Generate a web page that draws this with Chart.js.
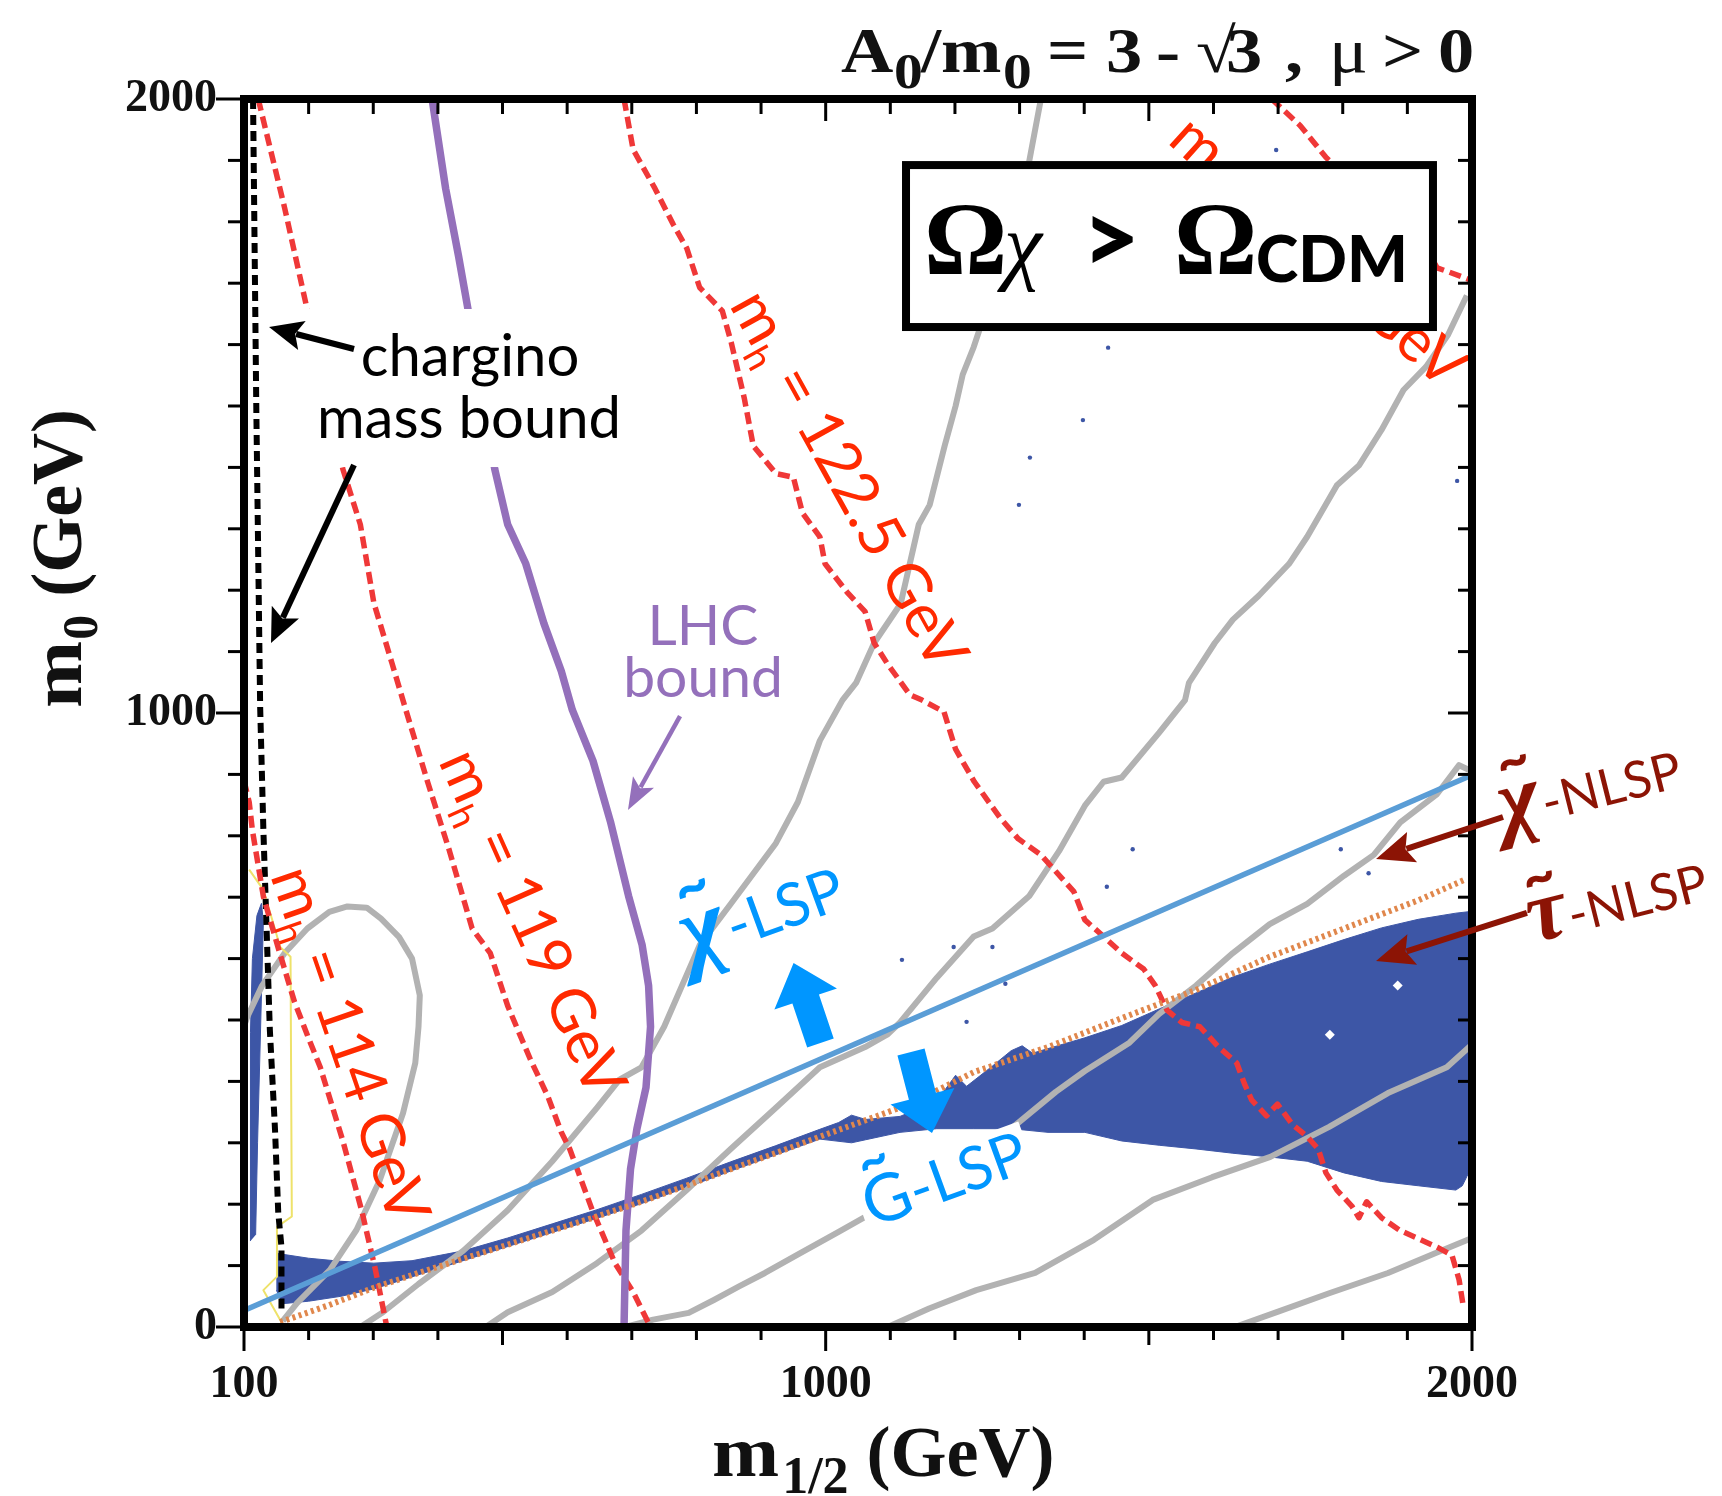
<!DOCTYPE html>
<html>
<head>
<meta charset="utf-8">
<title>m0 vs m1/2 plane</title>
<script src="https://cdn.jsdelivr.net/npm/chart.js@4.4.1/dist/chart.umd.min.js"></script>
<style>
html,body{margin:0;padding:0;background:#fff;}
#wrap{width:1722px;height:1496px;}
canvas{display:block;}
</style>
</head>
<body>
<div id="wrap"><canvas id="chart" width="1722" height="1496"></canvas></div>
<script>
// ---------------- data (GeV) ----------------
const xTickLabels = [100, 1000, 2000];
const yTickLabels = [0, 1000, 2000];

const charginoBound = [[114,2000],[119,1500],[125,1010],[130,809],[135,647],[140,484],[148,321],[153,186],[158,130],[158,28]];
const mh114 = [[100,890],[108,855],[113,809],[130,701],[155,610],[178,530],[200,470],[218,423],[253,303],[282,190],[303,95],[321,0]];
const mh119 = [[122,2000],[163,1822],[197,1661],[253,1397],[280,1307],[301,1179],[329,1081],[349,1010],[384,888],[418,775],[453,649],[481,609],[508,523],[543,436],[570,376],[591,317],[604,290],[639,190],[674,104],[702,57],[729,0]];
const mh1225 = [[688,2000],[702,1918],[736,1854],[764,1796],[785,1757],[805,1693],[840,1655],[854,1603],[874,1513],[888,1435],[923,1390],[950,1384],[964,1326],[991,1287],[999,1243],[1033,1197],[1061,1165],[1075,1114],[1095,1081],[1130,1030],[1149,1021],[1183,1002],[1201,941],[1230,888],[1270,829],[1298,795],[1333,769],[1367,729],[1384,709],[1401,663],[1430,636],[1458,609],[1492,583],[1510,556],[1528,516],[1551,496],[1579,489],[1608,456],[1636,430],[1648,396],[1659,370],[1682,344],[1699,363],[1722,330],[1745,310],[1762,290],[1774,251],[1791,223],[1814,197],[1825,178],[1837,204],[1860,178],[1889,157],[1917,144],[1946,130],[1969,117],[1980,77],[1986,37]];
const mh125 = [[1690,2000],[1734,1957],[1774,1905],[1830,1850],[1890,1800],[1915,1782],[1946,1725],[1965,1718],[1998,1705]];
const lhcBound = [[391,2000],[412,1854],[432,1744],[446,1661],[467,1530],[488,1397],[508,1307],[536,1243],[564,1146],[591,1068],[608,1005],[640,922],[667,823],[695,702],[716,622],[726,556],[729,489],[722,390],[708,323],[698,257],[691,157],[688,0]];
const lspBoundary = [[100,27],[2000,899]];
const stauBoundary = [[156,8],[230,35],[301,64],[370,88],[439,111],[508,134],[577,157],[646,180],[715,204],[784,230],[853,257],[922,283],[991,310],[1060,336],[1130,363],[1229,415],[1344,456],[1458,503],[1573,549],[1687,603],[1802,649],[1917,695],[1990,729]];
const relicBand = [[150,120],[200,112],[250,107],[301,104],[360,108],[439,124],[508,145],[577,168],[646,191],[715,216],[784,242],[853,269],[922,295],[991,322],[1020,333],[1040,345],[1062,338],[1115,343],[1172,368],[1201,410],[1218,392],[1258,425],[1287,450],[1304,458],[1320,446],[1401,471],[1458,491],[1516,518],[1573,544],[1630,570],[1687,591],[1745,611],[1802,631],[1860,650],[1917,664],[1975,674],[2000,677],[2000,262],[1992,245],[1985,230],[1975,223],[1917,230],[1860,237],[1802,251],[1745,270],[1687,277],[1630,283],[1573,290],[1516,296],[1458,303],[1401,317],[1344,317],[1287,323],[1229,323],[1172,323],[1115,317],[1062,305],[1040,300],[991,306],[922,280],[853,254],[784,227],[715,201],[646,177],[577,154],[508,131],[439,108],[370,85],[301,62],[250,50],[200,42],[160,38],[150,60]];
const relicSliver = [[110,140],[110,480],[113,600],[120,670],[127,690],[130,660],[126,500],[121,300],[118,150]];
const grayLoop = [[100,490],[105,505],[128,556],[163,609],[198,649],[232,676],[260,685],[290,683],[312,665],[340,635],[360,600],[372,540],[370,489],[365,430],[346,348],[310,239],[274,158],[233,93],[182,39],[160,10]];
const grayA = [[280,0],[315,24],[370,70],[439,124],[508,190],[577,270],[646,357],[681,403],[715,423],[750,489],[805,622],[853,689],[923,788],[957,855],[991,955],[1026,1021],[1047,1049],[1075,1114],[1116,1178],[1144,1307],[1161,1339],[1184,1435],[1201,1500],[1212,1551],[1229,1596],[1262,1700],[1290,1800],[1315,1899],[1333,2000]];
const grayB = [[474,0],[508,24],[577,57],[646,104],[715,157],[785,223],[853,290],[923,357],[991,423],[1061,456],[1095,476],[1115,496],[1172,569],[1229,636],[1258,649],[1315,702],[1361,775],[1401,849],[1430,888],[1458,895],[1516,968],[1556,1021],[1562,1049],[1602,1114],[1630,1152],[1670,1191],[1717,1243],[1745,1287],[1791,1371],[1825,1403],[1860,1461],[1894,1526],[1929,1564],[1963,1616],[1992,1680]];
const grayC = [[690,0],[733,12],[788,23],[827,44],[866,66],[906,88],[960,120],[1020,155],[1079,190],[1130,225],[1172,250],[1229,283],[1287,323],[1356,383],[1401,417],[1470,463],[1516,510],[1573,556],[1630,609],[1687,656],[1745,689],[1802,735],[1848,769],[1889,822],[1946,868],[1980,915],[2000,905]];
const grayE = [[1096,0],[1160,30],[1233,60],[1324,88],[1415,142],[1506,207],[1598,244],[1688,277],[1779,326],[1870,381],[1961,423],[2000,460]];
const grayF = [[1633,0],[1700,25],[1779,55],[1870,88],[1943,120],[2000,145]];
const yellowEdge = [[108,745],[130,712],[156,619],[172,603],[174,180],[151,163],[151,82],[130,60],[160,4]];
const scatterDots = [[1697,1917],[1437,1595],[1398,1477],[1316,1416],[1299,1339],[1977,1378],[1475,778],[1435,717],[1797,778],[1840,739],[1198,619],[1258,619],[1118,598],[1218,497],[1278,559]];
const holeSpecks = [[1780,476],[1885,556]];

// ---------------- annotation anchors (in GeV units) ----------------
const notes = {
  charginoBg: [186.6, 1658, 712.7, 1400.6],
  charginoText: [[449.7, 1548.9], [448.1, 1447.9]],
  charginoArrows: [[270.2, 1592.8, 138.7, 1628.7], [270.2, 1403.9, 141.8, 1114]],
  lhcText: [[810.2, 1110.7], [810.2, 1026]],
  lhcArrow: [774.6, 995, 694.1, 842],
  mhLabels: [
    {v: '114', x: 263.2, y: 459.3, a: 71},
    {v: '119', x: 545.6, y: 658, a: 66},
    {v: '122.5', x: 1035.3, y: 1379.5, a: 61},
    {v: '125', x: 1761.7, y: 1750.8, a: 42}
  ],
  omegaBox: [1118.1, 1898.9, 1945.8, 1622.1],
  chiLSP: [791.7, 591.6, -20],
  gLSP: [1071.7, 161.2, -20],
  upArrow: [991.9, 462.5, 950.3, 592.8],
  downArrow: [1132, 447.9, 1164.5, 316],
  chiNLSP: [2051, 807.8, -14],
  tauNLSP: [2094.4, 625.4, -14],
  chiNLSPArrow: [2048, 830.6, 1851.5, 762.2],
  tauNLSPArrow: [2085, 674.3, 1851.5, 596.1]
};

// ---------------- styles ----------------
const C = {
  navy: '#3d56a6', gray: '#b2b2b2', red: '#ef3838', redText: '#ff2a00',
  purple: '#9470bb', lightBlue: '#5a9dd6', orange: '#e0874c', yellow: '#eee26a',
  blue: '#0096ff', darkRed: '#8c1405'
};
const SERIF = "'Liberation Serif', 'Times New Roman', serif";
const SANS = "Lato, 'Open Sans', sans-serif";

const pts = a => a.map(p => ({x: p[0], y: p[1]}));
function lineDs(label, arr, color, width, dash, order, extra) {
  return Object.assign({
    label, data: pts(arr), borderColor: color, borderWidth: width, borderDash: dash || [],
    pointRadius: 0, fill: false, tension: 0, order, borderJoinStyle: 'round'
  }, extra || {});
}

const datasets = [
  lineDs('relic band', relicBand, C.navy, 1, [], 100, {fill: 'shape', backgroundColor: C.navy}),
  lineDs('relic sliver', relicSliver, C.navy, 1, [], 99, {fill: 'shape', backgroundColor: C.navy}),
  lineDs('gray loop', grayLoop, C.gray, 6, [], 90),
  lineDs('gray A', grayA, C.gray, 6, [], 90),
  lineDs('gray B', grayB, C.gray, 6, [], 90),
  lineDs('gray C', grayC, C.gray, 6, [], 90),
  lineDs('gray E', grayE, C.gray, 6, [], 90),
  lineDs('gray F', grayF, C.gray, 6, [], 90),
  lineDs('yellow', yellowEdge, C.yellow, 2, [], 85),
  lineDs('chargino bound', charginoBound, '#000', 6, [10, 6], 80),
  lineDs('mh 114', mh114, C.red, 5.5, [12, 6], 70),
  lineDs('mh 119', mh119, C.red, 5.5, [12, 6], 70),
  lineDs('mh 122.5', mh1225, C.red, 5.5, [12, 6], 70),
  lineDs('mh 125', mh125, C.red, 5.5, [12, 6], 70),
  lineDs('LHC bound', lhcBound, C.purple, 7.5, [], 60),
  lineDs('LSP boundary', lspBoundary, C.lightBlue, 5.5, [], 50),
  lineDs('stau boundary', stauBoundary, C.orange, 6, [3, 3.5], 40, {borderCapStyle: 'butt'}),
  lineDs('dots', scatterDots, C.navy, 0, [], 30, {showLine: false, pointRadius: 2.2, pointBackgroundColor: C.navy, pointBorderWidth: 0}),
  lineDs('specks', holeSpecks, '#fff', 0, [], 29, {showLine: false, pointRadius: 5, pointStyle: 'rectRot', pointBackgroundColor: '#fff', pointBorderWidth: 0})
];

// ---------------- drawing helpers ----------------
function drawRun(ctx, x, y, deg, pieces, opts) {
  opts = opts || {};
  ctx.save();
  ctx.translate(x, y);
  ctx.rotate(deg * Math.PI / 180);
  ctx.textAlign = 'left';
  ctx.textBaseline = 'alphabetic';
  const widths = pieces.map(p => { ctx.font = p.font; return ctx.measureText(p.t).width * (p.sx || 1); });
  const total = widths.reduce((a, b) => a + b, 0) + pieces.reduce((a, p) => a + (p.dx || 0), 0);
  let cx = opts.center ? -total / 2 : 0;
  const by = opts.baseline || 0;
  if (opts.bg) {
    ctx.fillStyle = '#fff';
    ctx.fillRect(cx - opts.bg[0], by - opts.bg[1], total + 2 * opts.bg[0], opts.bg[1] + opts.bg[2]);
  }
  const pos = [];
  pieces.forEach((p, i) => {
    cx += (p.dx || 0);
    ctx.font = p.font;
    ctx.fillStyle = p.color || opts.color;
    ctx.save();
    ctx.translate(cx, by + (p.dy || 0));
    ctx.scale(p.sx || 1, 1);
    ctx.fillText(p.t, 0, 0);
    ctx.restore();
    pos.push(cx);
    cx += widths[i];
  });
  if (opts.tilde) {
    const t = opts.tilde;
    ctx.font = t.font;
    ctx.textAlign = 'center';
    ctx.textBaseline = 'middle';
    ctx.fillStyle = opts.color;
    ctx.fillText('~', pos[t.i] + widths[t.i] * t.fx, by + t.dy);
  }
  ctx.restore();
}

function arrow(ctx, x1, y1, x2, y2, color, lw, hl, hw) {
  const a = Math.atan2(y2 - y1, x2 - x1), c = Math.cos(a), s = Math.sin(a);
  const bx = x2 - hl * c, by = y2 - hl * s;
  ctx.strokeStyle = color; ctx.lineWidth = lw; ctx.lineCap = 'butt';
  ctx.beginPath(); ctx.moveTo(x1, y1); ctx.lineTo(bx + 2 * c, by + 2 * s); ctx.stroke();
  ctx.fillStyle = color;
  ctx.beginPath();
  ctx.moveTo(x2, y2);
  ctx.lineTo(bx - hw * s - 4 * c, by + hw * c - 4 * s);
  ctx.lineTo(bx + 3 * c, by + 3 * s);
  ctx.lineTo(bx + hw * s - 4 * c, by - hw * c - 4 * s);
  ctx.closePath(); ctx.fill();
}

function fatArrow(ctx, x1, y1, x2, y2, sw, hw, hl, color) {
  const a = Math.atan2(y2 - y1, x2 - x1), c = Math.cos(a), s = Math.sin(a);
  const L = Math.hypot(x2 - x1, y2 - y1);
  const shape = [[0, -sw], [L - hl, -sw], [L - hl, -hw], [L, 0], [L - hl, hw], [L - hl, sw], [0, sw]];
  ctx.fillStyle = color;
  ctx.beginPath();
  shape.forEach(([u, v], i) => {
    const X = x1 + u * c - v * s, Y = y1 + u * s + v * c;
    if (i) ctx.lineTo(X, Y); else ctx.moveTo(X, Y);
  });
  ctx.closePath(); ctx.fill();
}

const overlay = {
  id: 'overlay',
  afterDatasetsDraw(chart) {
    const ctx = chart.ctx, xs = chart.scales.x, ys = chart.scales.y, ca = chart.chartArea;
    const px = v => xs.getPixelForValue(v), py = v => ys.getPixelForValue(v);
    ctx.save();

    // white background of the chargino label
    const cb = notes.charginoBg;
    ctx.fillStyle = '#fff';
    ctx.fillRect(px(cb[0]), py(cb[1]), px(cb[2]) - px(cb[0]), py(cb[3]) - py(cb[1]));

    // m_h labels
    notes.mhLabels.forEach(m => {
      drawRun(ctx, px(m.x), py(m.y), m.a, [
        {t: 'm', font: `61px ${SANS}`},
        {t: 'h', font: `37px ${SANS}`, dy: 13},
        {t: ' = ' + m.v + ' GeV', font: `61px ${SANS}`}
      ], {center: true, baseline: 20, color: C.redText});
    });

    // Omega box
    const ob = notes.omegaBox;
    const L = px(ob[0]), T = py(ob[1]), R = px(ob[2]), B = py(ob[3]);
    ctx.fillStyle = '#fff';
    ctx.fillRect(L, T, R - L, B - T);
    ctx.strokeStyle = '#000';
    ctx.lineWidth = 8;
    ctx.strokeRect(L + 4, T + 4, R - L - 8, B - T - 8);
    ctx.fillStyle = '#000';
    ctx.textAlign = 'left';
    ctx.textBaseline = 'alphabetic';
    ctx.font = `bold 104px ${SERIF}`; ctx.fillText('Ω', L + 22, T + 113);
    ctx.font = `italic 86px ${SERIF}`; ctx.fillText('χ', L + 102, T + 112);
    ctx.font = `900 100px ${SANS}`; ctx.textBaseline = 'middle'; ctx.fillText('>', L + 180, T + 80);
    ctx.textBaseline = 'alphabetic';
    ctx.font = `bold 104px ${SERIF}`; ctx.fillText('Ω', L + 272, T + 113);
    ctx.font = `900 64px ${SANS}`; ctx.fillText('CDM', L + 354, T + 121);

    // chargino label + arrows
    ctx.fillStyle = '#000';
    ctx.font = `58px ${SANS}`;
    ctx.textAlign = 'center';
    ctx.fillText('chargino', px(notes.charginoText[0][0]), py(notes.charginoText[0][1]));
    ctx.fillText('mass bound', px(notes.charginoText[1][0]), py(notes.charginoText[1][1]));
    notes.charginoArrows.forEach(a => arrow(ctx, px(a[0]), py(a[1]), px(a[2]), py(a[3]), '#000', 6, 30, 15));

    // LHC label + arrow
    ctx.fillStyle = C.purple;
    ctx.font = `57px ${SANS}`;
    ctx.fillText('LHC', px(notes.lhcText[0][0]), py(notes.lhcText[0][1]));
    ctx.fillText('bound', px(notes.lhcText[1][0]), py(notes.lhcText[1][1]));
    const la = notes.lhcArrow;
    arrow(ctx, px(la[0]), py(la[1]), px(la[2]), py(la[3]), C.purple, 4.5, 28, 12);

    // LSP labels and arrows
    const cl = notes.chiLSP;
    drawRun(ctx, px(cl[0]), py(cl[1]), cl[2], [
      {t: 'χ', font: `italic bold 96px ${SERIF}`},
      {t: '-LSP', font: `60px ${SANS}`, dx: 2}
    ], {color: C.blue, tilde: {i: 0, fx: 0.6, dy: -72, font: `bold 62px ${SANS}`}});
    const gl = notes.gLSP;
    drawRun(ctx, px(gl[0]), py(gl[1]), gl[2], [
      {t: 'G', font: `66px ${SANS}`},
      {t: '-LSP', font: `60px ${SANS}`}
    ], {color: C.blue, bg: [4, 50, 12], tilde: {i: 0, fx: 0.5, dy: -63, font: `bold 54px ${SANS}`}});
    const ua = notes.upArrow, da = notes.downArrow;
    fatArrow(ctx, px(ua[0]), py(ua[1]), px(ua[2]), py(ua[3]), 14, 33, 38, C.blue);
    fatArrow(ctx, px(da[0]), py(da[1]), px(da[2]), py(da[3]), 14, 33, 38, C.blue);

    // title
    const tpieces = [
      ['A', 841, 72, 'bold 63px'], ['0', 894, 88, 'bold 50px'], ['/', 921, 72, 'bold 63px'],
      ['m', 941, 72, 'bold 63px'], ['0', 1003, 88, 'bold 50px'], ['=', 1047, 72, 'bold 63px'],
      ['3', 1106, 72, 'bold 63px'], ['-', 1156, 72, 'bold 63px'], ['√', 1196, 72, '63px'],
      ['3', 1226, 72, 'bold 63px'], [',', 1285, 72, 'bold 63px'], ['μ', 1329, 72, '63px'],
      ['>', 1382, 72, 'bold 63px'], ['0', 1438, 72, 'bold 63px']
    ];
    ctx.fillStyle = '#111';
    ctx.textAlign = 'left';
    ctx.textBaseline = 'alphabetic';
    tpieces.forEach(([t, x, y, f]) => {
      ctx.save();
      ctx.translate(x, y);
      ctx.scale(1.15, 1);
      ctx.font = `${f} ${SERIF}`;
      ctx.fillText(t, 0, 0);
      ctx.restore();
    });

    // axis titles
    drawRun(ctx, 712, 1476, 0, [
      {t: 'm', font: `bold 72px ${SERIF}`, sx: 1.12},
      {t: '1/2', font: `bold 52px ${SERIF}`, dy: 17, dx: 3},
      {t: ' (GeV)', font: `bold 72px ${SERIF}`}
    ], {color: '#111'});

    drawRun(ctx, 81, 708, -90, [
      {t: 'm', font: `bold 72px ${SERIF}`, sx: 1.12},
      {t: '0', font: `bold 50px ${SERIF}`, dy: 16, dx: 1},
      {t: ' (GeV)', font: `bold 72px ${SERIF}`}
    ], {color: '#111'});

    ctx.restore();
  },
  afterDraw(chart) {
    const ctx = chart.ctx, xs = chart.scales.x, ys = chart.scales.y, ca = chart.chartArea;
    const px = v => xs.getPixelForValue(v), py = v => ys.getPixelForValue(v);
    ctx.save();
    // frame as solid bars
    const w = 8, h = w / 2;
    ctx.fillStyle = '#000';
    ctx.fillRect(ca.left - h, ca.top - h, w, ca.bottom - ca.top + w);
    ctx.fillRect(ca.right - h, ca.top - h, w, ca.bottom - ca.top + w);
    ctx.fillRect(ca.left - h, ca.top - h, ca.right - ca.left + w, w);
    ctx.fillRect(ca.left - h, ca.bottom - h, ca.right - ca.left + w, w);

    // tick marks
    ctx.strokeStyle = '#000';
    ctx.lineWidth = 3;
    ctx.lineCap = 'butt';
    const seg = (a, b, c, d) => { ctx.beginPath(); ctx.moveTo(a, b); ctx.lineTo(c, d); ctx.stroke(); };
    xs.ticks.forEach(t => {
      const v = Math.round(t.value), p = px(v);
      const lab = xTickLabels.includes(v), maj = v % 500 === 0;
      seg(p, ca.bottom, p, ca.bottom + h + (lab ? 20 : (maj ? 14 : 9)));
      if (v > 100 && v < 2000) seg(p, ca.top, p, ca.top + h + (maj && v !== 500 ? 18 : 11));
    });
    ys.ticks.forEach(t => {
      const v = Math.round(t.value), p = py(v);
      const lab = yTickLabels.includes(v);
      seg(ca.left, p, ca.left - h - (lab ? 24 : 12), p);
      if (v > 0 && v < 2000) seg(ca.right, p, ca.right - h - (v === 1000 ? 20 : 10), p);
    });

    // NLSP labels and arrows (outside the frame)
    const cn = notes.chiNLSP, tn = notes.tauNLSP;
    drawRun(ctx, px(cn[0]), py(cn[1]), cn[2], [
      {t: 'χ', font: `italic bold 88px ${SERIF}`},
      {t: '-NLSP', font: `51px ${SANS}`, dx: 2}
    ], {color: C.darkRed, tilde: {i: 0, fx: 0.6, dy: -66, font: `bold 58px ${SANS}`}});
    drawRun(ctx, px(tn[0]), py(tn[1]), tn[2], [
      {t: 'τ', font: `italic bold 88px ${SERIF}`},
      {t: '-NLSP', font: `51px ${SANS}`, dx: 2}
    ], {color: C.darkRed, tilde: {i: 0, fx: 0.55, dy: -62, font: `bold 58px ${SANS}`}});
    [notes.chiNLSPArrow, notes.tauNLSPArrow].forEach(a =>
      arrow(ctx, px(a[0]), py(a[1]), px(a[2]), py(a[3]), C.darkRed, 6, 34, 16));
    ctx.restore();
  }
};

const tickFont = {family: SERIF, weight: 'bold', size: 46, lineHeight: 1.2};

new Chart(document.getElementById('chart'), {
  type: 'line',
  data: {datasets},
  options: {
    responsive: false,
    animation: false,
    devicePixelRatio: 1,
    layout: {padding: {left: 0, right: 250, top: 99, bottom: 0}},
    plugins: {legend: {display: false}, tooltip: {enabled: false}, title: {display: false}},
    scales: {
      x: {
        type: 'linear', position: 'bottom', min: 100, max: 2000,
        ticks: {stepSize: 100, autoSkip: false, maxRotation: 0, minRotation: 0, padding: 31, color: '#111', font: tickFont,
          callback: v => xTickLabels.includes(Math.round(v)) ? String(Math.round(v)) : ''},
        grid: {display: false, drawTicks: false},
        border: {display: false},
        afterFit: s => { s.height = 169; }
      },
      y: {
        type: 'linear', position: 'left', min: 0, max: 2000,
        ticks: {stepSize: 100, autoSkip: false, padding: 27, color: '#111', font: tickFont,
          callback: v => yTickLabels.includes(Math.round(v)) ? String(Math.round(v)) : ''},
        grid: {display: false, drawTicks: false},
        border: {display: false},
        afterFit: s => { s.width = 244; }
      }
    }
  },
  plugins: [overlay]
});
</script>
</body>
</html>
